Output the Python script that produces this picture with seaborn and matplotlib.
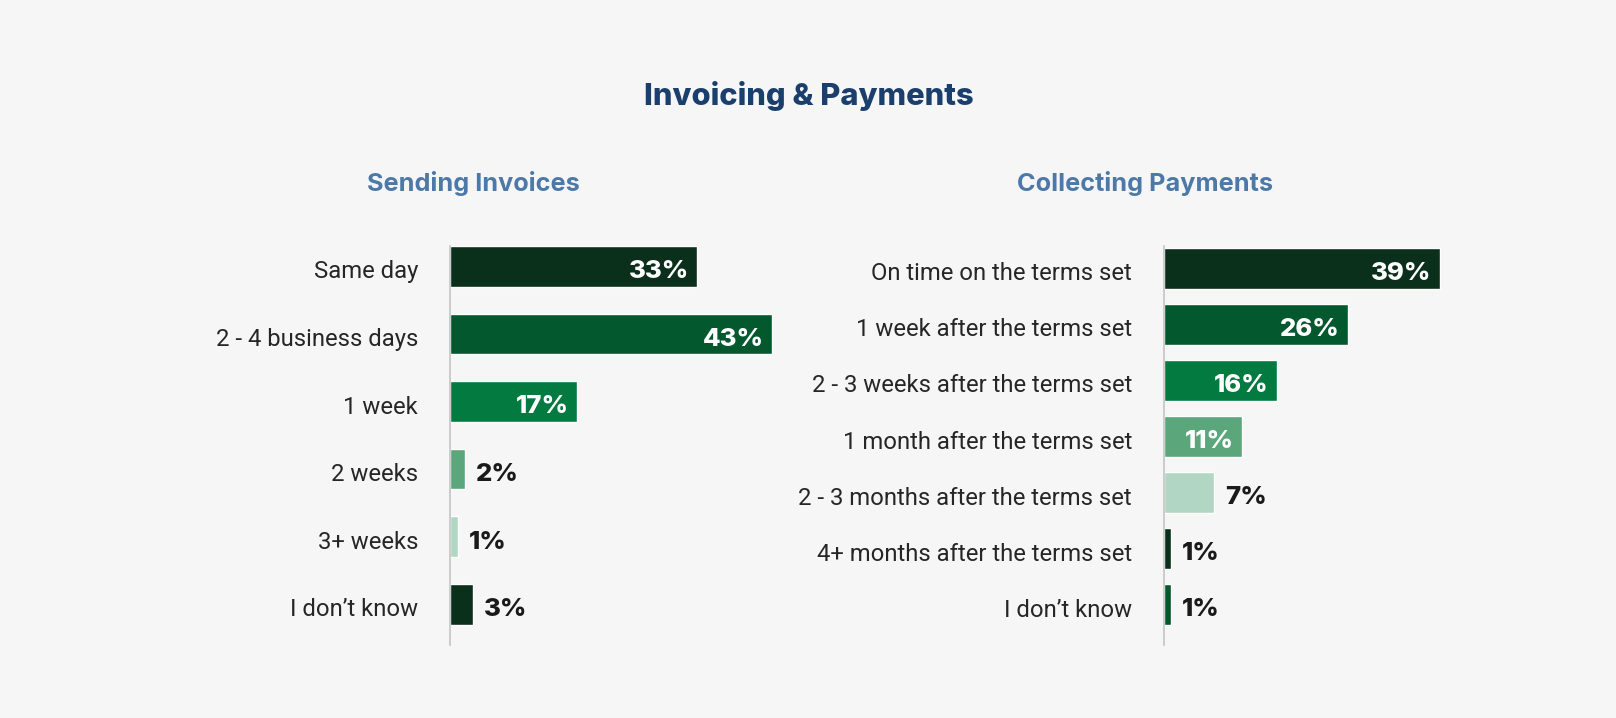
import matplotlib.pyplot as plt
import matplotlib.transforms as mtrans
import seaborn as sns
import pandas as pd

# Datos
envio_cat = ['Same day', '2 - 4 business days', '1 week', '2 weeks', '3+ weeks', 'I don\u2019t know']
envio_pct = [33, 43, 17, 2, 1, 3]

cobro_cat = ['On time on the terms set', '1 week after the terms set', '2 - 3 weeks after the terms set',
             '1 month after the terms set', '2 - 3 months after the terms set',
             '4+ months after the terms set', 'I don\u2019t know']
cobro_pct = [39, 26, 16, 11, 7, 1, 1]

verdes = ['#0a301c', '#03582e', '#037a40', '#5ba67b', '#b2d6c4']

# Configuración
sns.set_theme(style='white')
plt.rcParams['font.family'] = ['Roboto', 'DejaVu Sans']
fondo = '#f6f6f6'
negrita = ['Inter', 'DejaVu Sans']

fig = plt.figure(figsize=(16.16, 7.18), dpi=100, facecolor=fondo)
bajar = mtrans.ScaledTranslation(0, -3 / 100, fig.dpi_scale_trans)

def panel(rect, cats, vals, xmax, ylim, bar_w):
    ax = fig.add_axes(rect)
    ax.set_facecolor(fondo)
    df = pd.DataFrame({'cat': cats, 'pct': vals})
    pal = [verdes[i % 5] for i in range(len(cats))]
    sns.barplot(data=df, x='pct', y='cat', hue='cat', palette=pal, legend=False,
                order=cats, width=bar_w, orient='h', ax=ax, saturation=1)
    ax.set_xlim(0, xmax)
    ax.set_ylim(*ylim)
    ax.set_xlabel('')
    ax.set_ylabel('')
    ax.set_xticks([])
    for s in ['top', 'right', 'bottom']:
        ax.spines[s].set_visible(False)
    ax.spines['left'].set_color('#c4c4c4')
    ax.spines['left'].set_linewidth(1.2)
    ax.tick_params(axis='y', length=0, pad=23, labelsize=17.2, labelcolor='#262626')
    for t in ax.get_yticklabels():
        t.set_verticalalignment('center_baseline')
        t.set_transform(t.get_transform() + bajar)

    # Añadir valores
    for i, p in enumerate(ax.patches):
        v = vals[i]
        y = p.get_y() + p.get_height() / 2
        if v >= 10:
            ax.annotate(f"{v}%", (p.get_width(), y), xytext=(-6, -2), textcoords='offset points',
                        ha='right', va='center_baseline', fontsize=18.5, fontweight='heavy',
                        color='white', family=negrita)
        else:
            ax.annotate(f"{v}%", (p.get_width(), y), xytext=(8, -2), textcoords='offset points',
                        ha='left', va='center_baseline', fontsize=18.5, fontweight='heavy',
                        color='#1a1a1a', family=negrita)
    return ax

ax1 = panel([0.2785, 0.1017, 0.2166, 0.5557], envio_cat, envio_pct, 46.7, (5.6, -0.3), 0.6)
ax2 = panel([0.7203, 0.1017, 0.1856, 0.5557], cobro_cat, cobro_pct, 42.4, (6.72, -0.40), 0.73)

fig.text(0.5006, 1 - 96 / 718, 'Invoicing & Payments', ha='center', va='center',
         fontsize=22.2, fontweight='heavy', color='#1b3f6c', family=negrita)
fig.text(473 / 1616, 1 - 184 / 718, 'Sending Invoices', ha='center', va='center',
         fontsize=18.2, fontweight='bold', color='#4d79a8', family=negrita)
fig.text(1145 / 1616, 1 - 184 / 718, 'Collecting Payments', ha='center', va='center',
         fontsize=18.2, fontweight='bold', color='#4d79a8', family=negrita)

plt.savefig('out.png', dpi=100, facecolor=fondo)
plt.close()
